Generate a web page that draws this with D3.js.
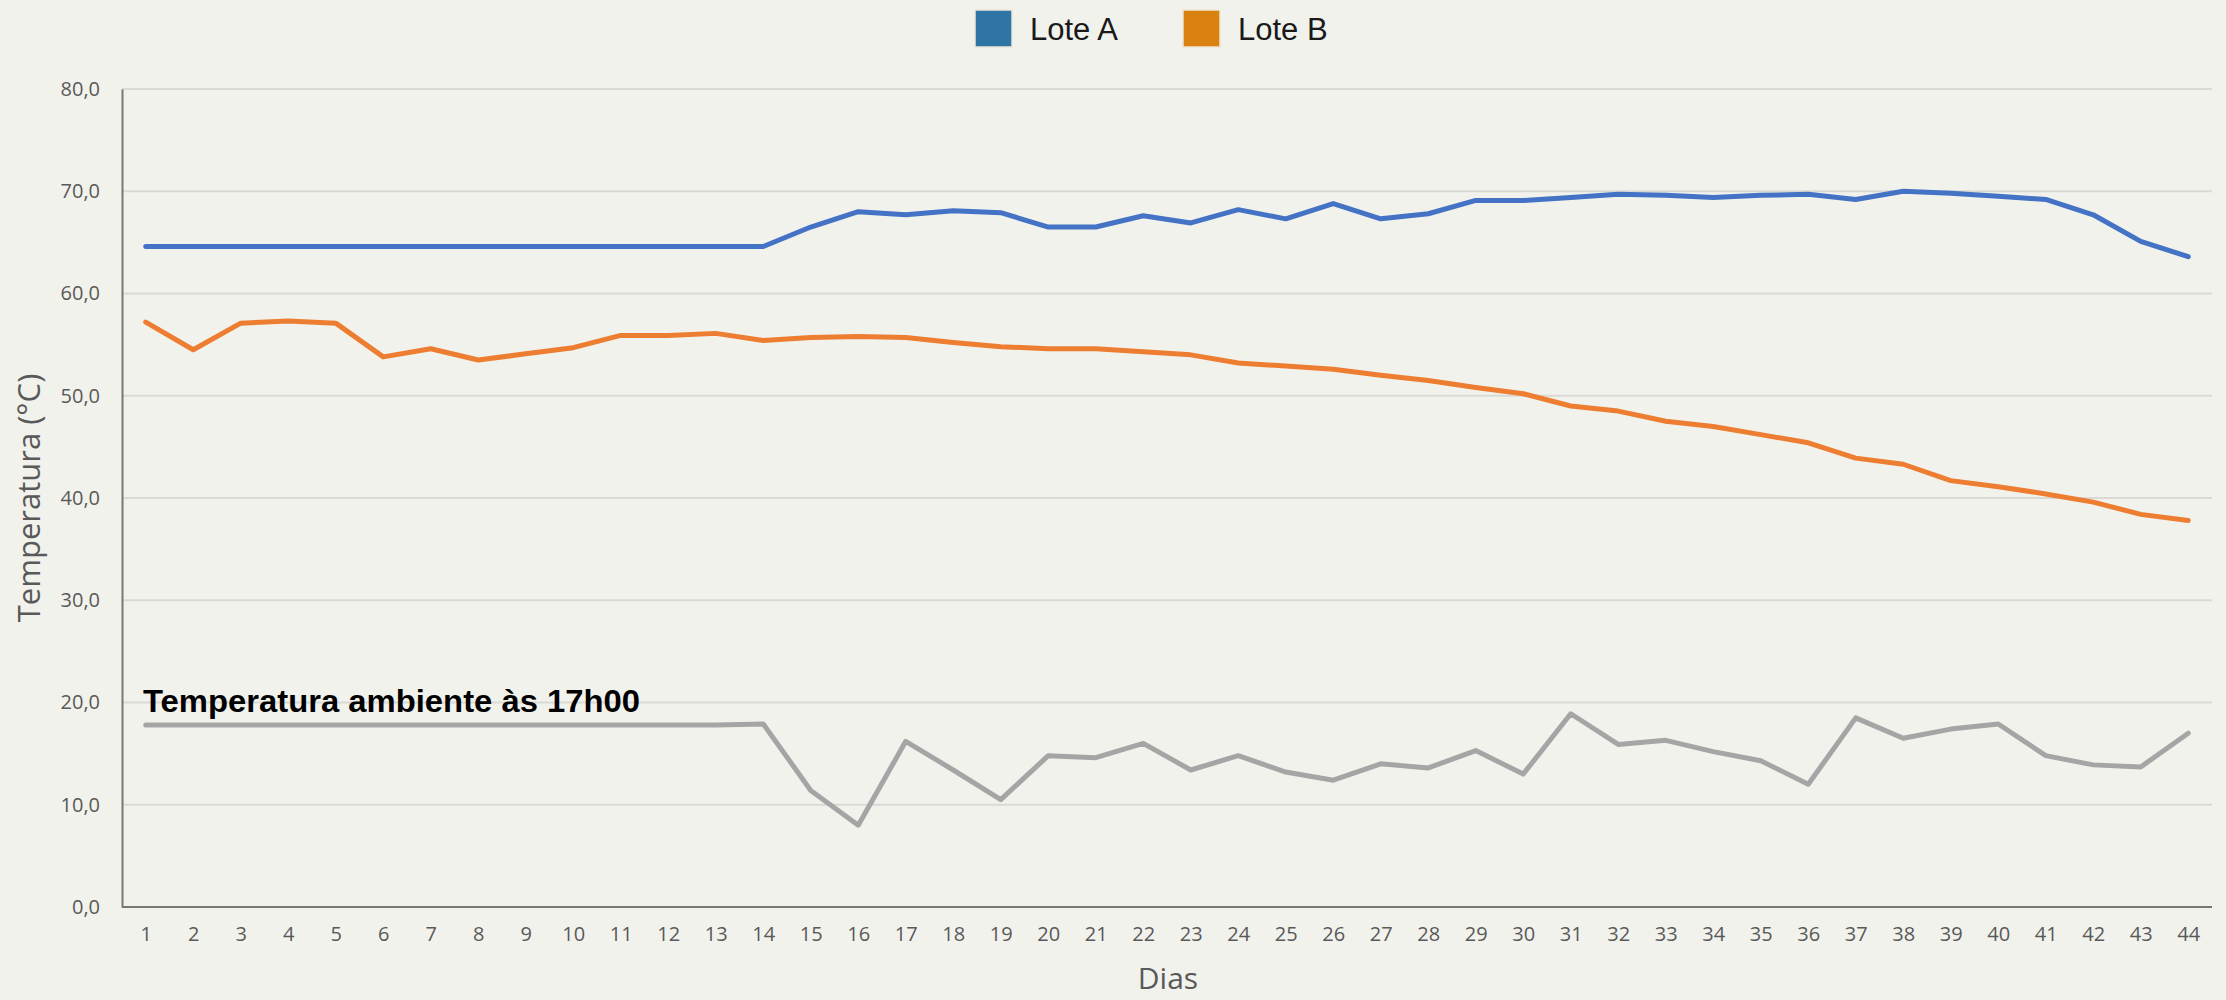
<!DOCTYPE html>
<html>
<head>
<meta charset="utf-8">
<script src="https://cdn.jsdelivr.net/npm/d3@7"></script>
<style>
  body { margin: 0; background: #f2f2ed; }
  svg { display: block; }
</style>
</head>
<body>
<script>

// days on the x axis
var days = d3.range(1, 45);

// Lote A (blue line)
var loteA = [64.6, 64.6, 64.6, 64.6, 64.6, 64.6, 64.6, 64.6, 64.6, 64.6, 64.6, 64.6, 64.6, 64.6,
  66.5, 68.0, 67.7, 68.1, 67.9, 66.5, 66.5, 67.6, 66.9, 68.2, 67.3, 68.8, 67.3, 67.8, 69.1,
  69.1, 69.4, 69.7, 69.6, 69.4, 69.6, 69.7, 69.2, 70.0, 69.8, 69.5, 69.2, 67.7, 65.1, 63.6];

// Lote B (orange line)
var loteB = [57.2, 54.5, 57.1, 57.3, 57.1, 53.8, 54.6, 53.5, 54.1, 54.7, 55.9, 55.9, 56.1, 55.4,
  55.7, 55.8, 55.7, 55.2, 54.8, 54.6, 54.6, 54.3, 54.0, 53.2, 52.9, 52.6, 52.0, 51.5, 50.8,
  50.2, 49.0, 48.5, 47.5, 47.0, 46.2, 45.4, 43.9, 43.3, 41.7, 41.1, 40.4, 39.6, 38.4, 37.8];

// ambient temperature at 17h00 (grey line)
var ambiente = [17.8, 17.8, 17.8, 17.8, 17.8, 17.8, 17.8, 17.8, 17.8, 17.8, 17.8, 17.8, 17.8, 17.9,
  11.4, 8.0, 16.2, 13.4, 10.5, 14.8, 14.6, 16.0, 13.4, 14.8, 13.2, 12.4, 14.0, 13.6, 15.3,
  13.0, 18.9, 15.9, 16.3, 15.2, 14.3, 12.0, 18.5, 16.5, 17.4, 17.9, 14.8, 13.9, 13.7, 17.0];

var yTicks = [0, 10, 20, 30, 40, 50, 60, 70, 80];

var legendNames = ["Lote A", "Lote B"];
var legendColors = ["#2e75a6", "#d9820f"];

var width = 2226, height = 1000;
var margin = {top: 89, right: 14, bottom: 93, left: 122};

var svg = d3.select("body")
            .append("svg")
            .attr("width", width)
            .attr("height", height);

svg.append("rect")
   .attr("width", width)
   .attr("height", height)
   .attr("fill", "#f2f2ed");

// scales
var xScale = d3.scalePoint()
  .domain(days)
  .range([margin.left, width - margin.right])
  .padding(0.5);

var yScale = d3.scaleLinear()
  .domain([0, 80])
  .range([height - margin.bottom, margin.top]);

// horizontal gridlines
svg.append("g")
  .selectAll("line")
  .data(yTicks.filter(function(d) { return d > 0; }))
  .enter()
  .append("line")
  .attr("x1", margin.left)
  .attr("x2", width - margin.right)
  .attr("y1", function(d) { return yScale(d); })
  .attr("y2", function(d) { return yScale(d); })
  .attr("stroke", "#d9d9d6")
  .attr("stroke-width", 2);

// y axis
var yAxis = svg.append("g")
  .attr("transform", "translate(" + margin.left + ",0)")
  .call(d3.axisLeft(yScale).tickValues(yTicks).tickSize(0).tickPadding(22)
    .tickFormat(function(d) { return d3.format(".1f")(d).replace(".", ","); }));
yAxis.select(".domain").attr("stroke", "#777").attr("stroke-width", 2);
yAxis.selectAll("text")
  .style("font-family", "'Open Sans', sans-serif")
  .style("font-size", "20px")
  .attr("fill", "#595959");

// x axis
var xAxis = svg.append("g")
  .attr("transform", "translate(0," + (height - margin.bottom) + ")")
  .call(d3.axisBottom(xScale).tickSize(0).tickPadding(20));
xAxis.select(".domain").attr("stroke", "#777").attr("stroke-width", 2)
  .attr("d", "M" + margin.left + ",0H" + (width - margin.right));
xAxis.selectAll("text")
  .style("font-family", "'Open Sans', sans-serif")
  .style("font-size", "20px")
  .attr("fill", "#595959");

// axis titles
svg.append("text")
  .attr("x", 1168)
  .attr("y", 989)
  .attr("text-anchor", "middle")
  .style("font-family", "'Open Sans', sans-serif")
  .style("font-size", "30px")
  .attr("fill", "#595959")
  .text("Dias");

svg.append("text")
  .attr("transform", "translate(40,498) rotate(-90)")
  .attr("text-anchor", "middle")
  .style("font-family", "'Open Sans', sans-serif")
  .style("font-size", "31px")
  .attr("fill", "#595959")
  .text("Temperatura (°C)");

// lines
var line = d3.line()
  .x(function(d, i) { return xScale(days[i]); })
  .y(function(d) { return yScale(d); });

var series = [
  {values: ambiente, color: "#a5a5a5"},
  {values: loteB, color: "#ed7d31"},
  {values: loteA, color: "#4472c4"}
];

svg.selectAll(".serie")
  .data(series)
  .enter()
  .append("path")
  .attr("class", "serie")
  .attr("d", function(d) { return line(d.values); })
  .attr("fill", "none")
  .attr("stroke", function(d) { return d.color; })
  .attr("stroke-width", 5)
  .attr("stroke-linejoin", "round")
  .attr("stroke-linecap", "round");

// label for the ambient line
svg.append("text")
  .attr("x", 143)
  .attr("y", 712)
  .style("font-family", "'Liberation Sans', Arial, sans-serif")
  .style("font-weight", "bold")
  .style("font-size", "31px")
  .attr("textLength", 497)
  .attr("lengthAdjust", "spacingAndGlyphs")
  .attr("fill", "#000")
  .text("Temperatura ambiente às 17h00");

// legend
var legend = svg.append("g");
var legendX = [975, 1183];

legend.selectAll("rect")
  .data(legendNames)
  .enter()
  .append("rect")
  .attr("x", function(d, i) { return legendX[i]; })
  .attr("y", 10)
  .attr("width", 37)
  .attr("height", 37)
  .attr("fill", function(d, i) { return legendColors[i]; })
  .attr("stroke", "#ece6d6")
  .attr("stroke-width", 1.5);

legend.selectAll("text")
  .data(legendNames)
  .enter()
  .append("text")
  .attr("x", function(d, i) { return legendX[i] + 55; })
  .attr("y", 40)
  .style("font-family", "'Liberation Sans', Arial, sans-serif")
  .style("font-size", "31px")
  .attr("fill", "#1a1a1a")
  .text(function(d) { return d; });

</script>
</body>
</html>
